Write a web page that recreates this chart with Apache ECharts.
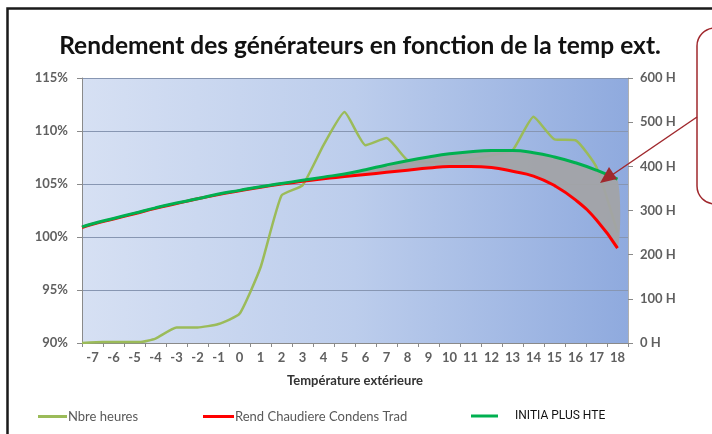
<!DOCTYPE html>
<html><head><meta charset="utf-8">
<script src="https://cdn.jsdelivr.net/npm/echarts@6/dist/echarts.min.js"></script>
<style>html,body{margin:0;padding:0;background:#fff}#c{width:712px;height:434px}</style>
</head><body><div id="c"></div>
<script>
const categories = ['-7','-6','-5','-4','-3','-2','-1','0','1','2','3','4','5','6','7','8','9','10','11','12','13','14','15','16','17','18'];
const curveTemps = [-7.5,-7,-6,-5,-4,-3,-2,-1,0,1,2,3,4,5,6,7,8,9,10,11,12,13,14,15,16,17,18];
const rendCondens = [100.9,101.2,101.7,102.2,102.7,103.15,103.6,104.0,104.35,104.7,105.0,105.25,105.5,105.7,105.9,106.1,106.3,106.5,106.65,106.65,106.55,106.2,105.75,104.85,103.5,101.6,98.95];
const initiaPlus = [100.95,101.25,101.75,102.25,102.75,103.2,103.6,104.05,104.4,104.75,105.05,105.35,105.65,105.95,106.35,106.8,107.2,107.55,107.85,108.05,108.15,108.15,107.95,107.55,107.0,106.3,105.45];
const hoursTemps = [-7.5,-6.5,-5.5,-4.75,-4,-3,-2,-1,0,1,2,3,4,5,6,7,8,9,10,11,12,13,14,15,16,17,18];
const nbreHeures = [0,2,2,2,10,35,35,43,66,171,334,357,448,523,448,464,414,410,410,415,425,436,512,461,459,398,250];

const pair = (xs, ys) => xs.map((x, i) => [x, ys[i]]);

const chart = echarts.init(document.getElementById('c'));
const font = 'Lato, "Open Sans", sans-serif';
const labelStyle = {fontFamily: font, fontSize: 13, fontWeight: 'bold', color: '#606060'};

function bandRender(params, api) {
  const upper = curveTemps.map((t, i) => api.coord([t, initiaPlus[i]]));
  const lower = curveTemps.map((t, i) => api.coord([t, rendCondens[i]])).reverse();
  return {
    type: 'polygon',
    shape: {points: upper.concat(lower), smooth: 0.25},
    style: {fill: 'rgba(162,163,166,0.95)', stroke: null}
  };
}

chart.setOption({
  animation: false,
  backgroundColor: '#fff',
  title: {
    text: 'Rendement des générateurs en fonction de la temp ext.',
    left: 355, top: 29, textAlign: 'center',
    textStyle: {fontFamily: font, fontWeight: 'bold', fontSize: 24.5, color: '#111'}
  },
  grid: {
    left: 82, right: 84, top: 78, bottom: 91, show: true, borderWidth: 0,
    backgroundColor: {type: 'linear', x: 0, y: 0, x2: 1, y2: 0, colorStops: [
      {offset: 0, color: '#d6e0f3'}, {offset: 0.5, color: '#bccdec'}, {offset: 1, color: '#8faade'}]}
  },
  legend: [
    {data: ['Nbre heures'], left: 33, top: 405, icon: 'rect', itemWidth: 29, itemHeight: 3,
     textStyle: {fontFamily: font, fontSize: 13, color: '#595959', padding: [0,0,0,-4]}},
    {data: ['Rend Chaudiere Condens Trad'], left: 198, top: 405, icon: 'rect', itemWidth: 31, itemHeight: 3,
     textStyle: {fontFamily: font, fontSize: 13, color: '#595959', padding: [0,0,0,-4]}},
    {data: ['INITIA PLUS HTE'], left: 466, top: 405, icon: 'rect', itemWidth: 27, itemHeight: 3,
     textStyle: {fontFamily: 'Roboto, sans-serif', fontSize: 12, color: '#111', padding: [0,0,13,12]}}
  ],
  xAxis: [
    {type: 'category', data: categories, boundaryGap: true, position: 'bottom',
     name: 'Température extérieure', nameLocation: 'middle', nameGap: 31,
     nameTextStyle: {fontFamily: font, fontWeight: 'bold', fontSize: 13, color: '#333'},
     axisLine: {lineStyle: {color: '#8a8a8a'}},
     axisTick: {show: true, length: 4, lineStyle: {color: '#8a8a8a'}},
     axisLabel: Object.assign({margin: 8}, labelStyle),
     splitLine: {show: false}},
    {type: 'value', min: -7.5, max: 18.5, show: false}
  ],
  yAxis: [
    {type: 'value', min: 90, max: 115, interval: 5, position: 'left',
     axisLine: {show: true, onZero: false, lineStyle: {color: '#8a8a8a'}},
     axisTick: {show: true, length: 5, lineStyle: {color: '#8a8a8a'}},
     axisLabel: Object.assign({formatter: v => v + '%', margin: 14}, labelStyle),
     splitLine: {show: true, lineStyle: {color: '#8796b2', width: 1}}},
    {type: 'value', min: 0, max: 600, interval: 100, position: 'right',
     axisLine: {show: true, onZero: false, lineStyle: {color: '#b0b0b0'}},
     axisTick: {show: true, length: 5, lineStyle: {color: '#8a8a8a'}},
     axisLabel: Object.assign({formatter: v => v + ' H', margin: 12}, labelStyle),
     splitLine: {show: false}}
  ],
  series: [
    {name: 'Nbre heures', type: 'line', xAxisIndex: 1, yAxisIndex: 1, data: pair(hoursTemps, nbreHeures),
     showSymbol: false, smooth: 0.15, color: '#9bbb59', lineStyle: {color: '#9bbb59', width: 2.5}, z: 2},
    {name: 'band', type: 'custom', xAxisIndex: 1, yAxisIndex: 0, data: [[0, 100]], renderItem: bandRender, z: 3, silent: true},
    {name: 'Rend Chaudiere Condens Trad', type: 'line', xAxisIndex: 1, yAxisIndex: 0, data: pair(curveTemps, rendCondens),
     showSymbol: false, smooth: true, color: '#ff0000', lineStyle: {color: '#ff0000', width: 3}, z: 4},
    {name: 'INITIA PLUS HTE', type: 'line', xAxisIndex: 1, yAxisIndex: 0, data: pair(curveTemps, initiaPlus),
     showSymbol: false, smooth: true, color: '#00b050', lineStyle: {color: '#00b050', width: 3}, z: 5}
  ],
  graphic: [
    {type: 'rect', left: 5, top: 6, shape: {width: 730, height: 450}, style: {fill: null, stroke: '#1a1a1a', lineWidth: 2.5}, silent: true, z: 10},
    {type: 'rect', shape: {x: 697, y: 28, width: 60, height: 176, r: 18}, style: {fill: null, stroke: '#a0282d', lineWidth: 1.5}, z: 10},
    {type: 'line', shape: {x1: 697, y1: 117, x2: 612, y2: 175}, style: {stroke: '#a0282d', lineWidth: 1.5}, z: 10},
    {type: 'polygon', shape: {points: [[600, 183], [617, 179], [609, 167]]}, style: {fill: '#a0282d'}, z: 10}
  ]
});
</script></body></html>
